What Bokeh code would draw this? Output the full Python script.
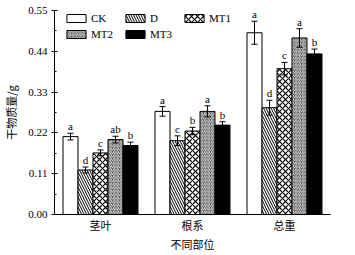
from bokeh.plotting import figure
from bokeh.models import (ColumnDataSource, FactorRange, FixedTicker, PrintfTickFormatter,
                          Whisker, TeeHead, Legend, LegendItem)
from bokeh.transform import dodge
from bokeh.core.properties import value
from bokeh.embed import file_html
from bokeh.resources import INLINE

categories = ["茎叶", "根系", "总重"]
treatments = ["CK", "D", "MT1", "MT2", "MT3"]

ck = [0.210, 0.278, 0.490]
d = [0.120, 0.199, 0.288]
mt1 = [0.166, 0.225, 0.393]
mt2 = [0.202, 0.278, 0.476]
mt3 = [0.186, 0.241, 0.433]

ck_err = [0.009, 0.013, 0.031]
d_err = [0.008, 0.013, 0.020]
mt1_err = [0.008, 0.010, 0.017]
mt2_err = [0.009, 0.015, 0.025]
mt3_err = [0.009, 0.009, 0.013]

ck_sig = ["a", "a", "a"]
d_sig = ["d", "c", "d"]
mt1_sig = ["c", "b", "c"]
mt2_sig = ["ab", "a", "a"]
mt3_sig = ["b", "b", "b"]

y_ticks = [0.00, 0.11, 0.22, 0.33, 0.44, 0.55]
y_minor = [0.055, 0.165, 0.275, 0.385, 0.495]

series_vals = [ck, d, mt1, mt2, mt3]
series_err = [ck_err, d_err, mt1_err, mt2_err, mt3_err]
series_sig = [ck_sig, d_sig, mt1_sig, mt2_sig, mt3_sig]

styles = [
    dict(fill_color="white", hatch_pattern=None),
    dict(fill_color="white", hatch_pattern="\\", hatch_scale=5, hatch_weight=1, hatch_color="black"),
    dict(fill_color="white", hatch_pattern="x", hatch_scale=6, hatch_weight=1.2, hatch_color="black"),
    dict(fill_color="#555555", hatch_pattern="/", hatch_scale=3.5, hatch_weight=0.8, hatch_color="white"),
    dict(fill_color="black", hatch_pattern=None),
]

serif = "Liberation Serif"
cjk = "Noto Sans CJK SC"

p = figure(x_range=FactorRange(factors=categories, range_padding=0), y_range=(0, 0.55),
           width=347, height=255, output_backend="svg", toolbar_location=None,
           min_border_left=54, min_border_right=17, min_border_top=10, min_border_bottom=41)
p.outline_line_color = None
p.xgrid.grid_line_color = None
p.ygrid.grid_line_color = None
p.background_fill_color = "white"

bar_w = 0.163
offsets = [-2 * bar_w, -bar_w, 0, bar_w, 2 * bar_w]
renderers = []
for i, t in enumerate(treatments):
    vals = series_vals[i]
    errs = series_err[i]
    src = ColumnDataSource(dict(
        cat=categories, top=vals,
        upper=[v + e for v, e in zip(vals, errs)],
        lower=[v - e for v, e in zip(vals, errs)],
        sig=series_sig[i]))
    x = dodge("cat", offsets[i], range=p.x_range)
    r = p.vbar(x=x, top="top", width=bar_w, source=src, line_color="black", line_width=1,
               **styles[i])
    renderers.append(r)
    w = Whisker(base=x, upper="upper", lower="lower", source=src, dimension="height",
                line_color="black", line_width=1, level="overlay",
                upper_head=TeeHead(size=6, line_color="black", line_width=1),
                lower_head=TeeHead(size=6, line_color="black", line_width=1))
    p.add_layout(w)
    p.text(x=x, y="upper", text="sig", source=src, text_align="center", text_baseline="bottom",
           y_offset=-1, text_font=value(serif), text_font_size="11px", text_color="black")

legend = Legend(items=[LegendItem(label=t, renderers=[r]) for t, r in zip(treatments, renderers)],
                orientation="horizontal", ncols=3, location=(10, 174),
                glyph_width=24, glyph_height=10, label_height=10, label_width=28,
                label_standoff=3, spacing=4, padding=0, margin=0,
                border_line_color=None, background_fill_alpha=0,
                label_text_font=serif, label_text_font_size="11px", label_text_color="black")
p.add_layout(legend)

# y axis
yax = p.yaxis[0]
yax.ticker = FixedTicker(ticks=y_ticks, minor_ticks=y_minor)
yax.formatter = PrintfTickFormatter(format="%.2f")
yax.major_tick_in = 3
yax.major_tick_out = 3
yax.minor_tick_in = 2
yax.minor_tick_out = 0
yax.major_label_standoff = 4
yax.major_label_text_font = serif
yax.major_label_text_font_size = "11px"
yax.major_label_text_color = "black"
yax.axis_label = "干物质量/g"
yax.axis_label_text_font = cjk
yax.axis_label_text_font_size = "11px"
yax.axis_label_text_font_style = "normal"
yax.axis_label_text_color = "black"
yax.axis_label_standoff = 6
yax.axis_line_color = "black"
yax.major_tick_line_color = "black"
yax.minor_tick_line_color = "black"

xax = p.xaxis[0]
xax.major_tick_in = 0
xax.major_tick_out = 0
xax.major_label_standoff = 2
xax.major_label_text_font = cjk
xax.major_label_text_font_size = "11px"
xax.major_label_text_color = "black"
xax.axis_label = "不同部位"
xax.axis_label_text_font = cjk
xax.axis_label_text_font_size = "11px"
xax.axis_label_text_font_style = "normal"
xax.axis_label_text_color = "black"
xax.axis_label_standoff = 0
xax.axis_line_color = "black"

open("out.html", "w").write(file_html(p, INLINE))
